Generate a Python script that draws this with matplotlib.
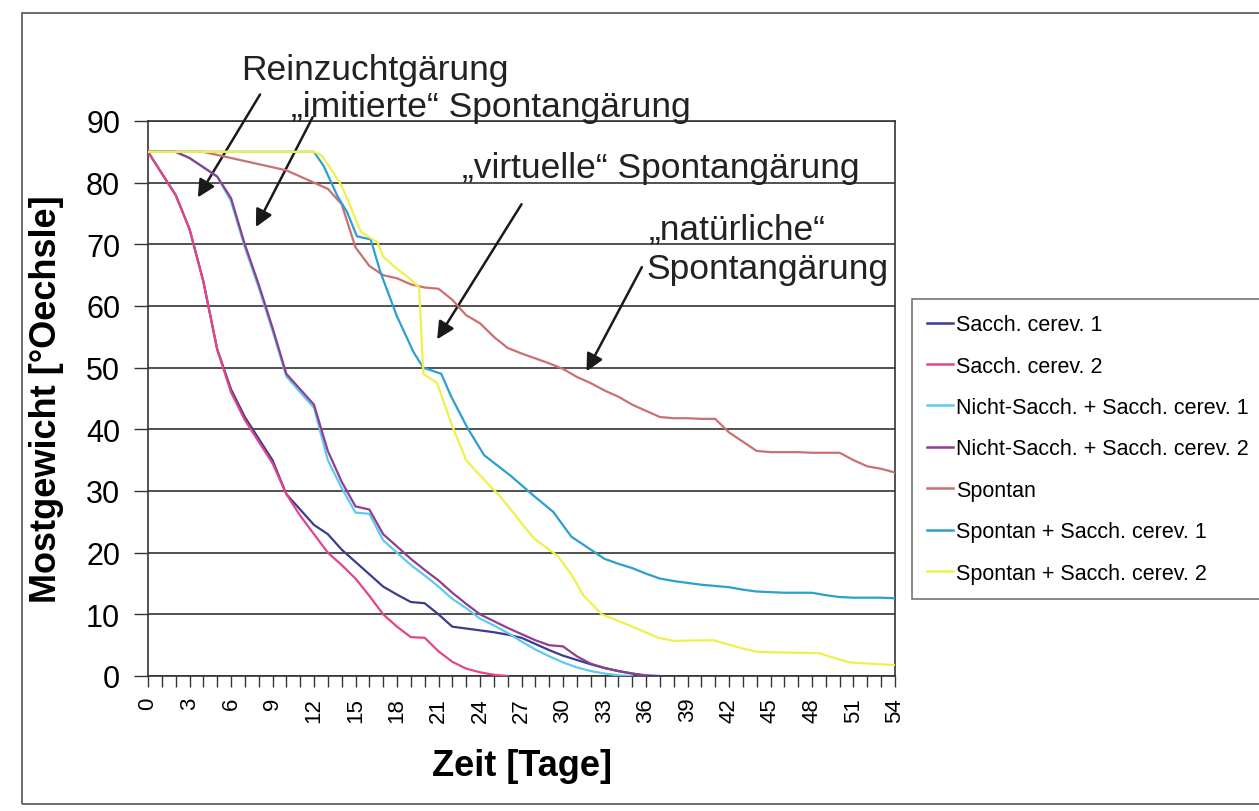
import matplotlib
matplotlib.use("Agg")
import matplotlib.pyplot as plt
from matplotlib.ticker import MultipleLocator
from matplotlib.lines import Line2D
from matplotlib.patches import Rectangle

# Mostgewicht over time for seven fermentations

days_sc1 = list(range(0, 38))
sacch_cerev_1 = [85, 81.5, 78, 72.5, 64, 53, 46.5, 42, 38.5, 35, 29.5, 27, 24.5, 23, 20.5, 18.5, 16.5, 14.5,
                 13.2, 12, 11.8, 10, 8, 7.7, 7.4, 7.1, 6.7, 6.2, 5.2, 4.2, 3.3, 2.6, 1.9, 1.3, 0.8, 0.4, 0.1, 0]

days_sc2 = list(range(0, 27))
sacch_cerev_2 = [85, 81.5, 78, 72.5, 64, 53, 46, 41.5, 38, 34.5, 29.5, 26, 23, 20, 18, 15.8, 13, 10,
                 8, 6.3, 6.2, 4, 2.3, 1.2, 0.6, 0.2, 0]

days_ns1 = list(range(0, 36))
nicht_sacch_1 = [85, 85, 85, 84, 82.5, 81, 77, 69.5, 63, 56, 48.6, 46, 43.5, 35, 30.5, 26.5, 26.3, 22,
                 20, 18, 16.3, 14.5, 12.5, 11, 9.3, 8.2, 7, 5.6, 4.3, 3.2, 2.2, 1.4, 0.8, 0.4, 0.1, 0]

days_ns2 = list(range(0, 37))
nicht_sacch_2 = [85, 85, 85, 84, 82.5, 81, 77.5, 70, 63.5, 56.5, 49, 46.5, 44, 36.5, 31.5, 27.5, 27, 23,
                 21, 19, 17.2, 15.5, 13.5, 11.7, 10, 8.9, 7.8, 6.8, 5.8, 5, 4.8, 3.2, 2, 1.3, 0.8, 0.4, 0]

days_sp = list(range(0, 55))
spontan = [85, 85, 85, 85, 85, 84.5, 84, 83.5, 83, 82.5, 82, 81, 80, 79, 76.5, 69.5, 66.5, 65,
           64.5, 63.5, 63, 62.8, 61, 58.5, 57.2, 55, 53.2, 52.3, 51.5, 50.7, 49.8, 48.5, 47.5, 46.3,
           45.3, 44, 43, 42, 41.8, 41.8, 41.7, 41.7, 39.5, 38, 36.5, 36.3, 36.3, 36.3, 36.2, 36.2,
           36.2, 35, 34, 33.6, 33]

days_sp1 = [0, 12, 12.7, 13.7, 14.4, 15.1, 16.1, 16.8, 18, 19.2, 19.9, 21.2, 21.9, 23.1, 24.3, 26.2,
            27.9, 29.3, 30.6, 32.8, 33, 34, 35, 36, 37, 38, 39, 40, 41, 42, 43, 44, 45, 46, 47, 48,
            49, 50, 51, 52, 53, 54]
spontan_sc1 = [85, 85, 82.7, 77.8, 75.2, 71.3, 70.8, 65.5, 58.3, 52.5, 50, 49, 45.4, 40.2, 35.8, 32.5,
               29.2, 26.6, 22.6, 19.3, 19, 18.2, 17.5, 16.6, 15.8, 15.4, 15.1, 14.8, 14.6, 14.4, 14,
               13.7, 13.6, 13.5, 13.5, 13.5, 13.1, 12.8, 12.7, 12.7, 12.7, 12.6]

days_sp2 = [0, 12, 12.5, 13, 14, 15.4, 16.6, 17, 18, 19, 19.6, 19.9, 20.9, 22, 23, 23.8, 25.5, 27.9,
            29.6, 30.6, 31.5, 32.8, 34.7, 36.9, 38, 40.9, 42.9, 44.1, 48.5, 50.7, 53.8, 54]
spontan_sc2 = [85, 85, 84.5, 83, 79.5, 72, 70.3, 68, 66, 64.3, 63, 49, 47.5, 40.5, 35, 33, 29, 22.3,
               19.5, 16.5, 13, 10, 8.3, 6.2, 5.7, 5.8, 4.5, 3.9, 3.7, 2.2, 1.8, 1.8]

labels = ["Sacch. cerev. 1", "Sacch. cerev. 2", "Nicht-Sacch. + Sacch. cerev. 1",
          "Nicht-Sacch. + Sacch. cerev. 2", "Spontan", "Spontan + Sacch. cerev. 1",
          "Spontan + Sacch. cerev. 2"]
colors = ["#3c3c8e", "#e4458a", "#5ccbee", "#8e3f92", "#cc6f6f", "#2c9fd2", "#f0f04a"]

series = [(days_sc1, sacch_cerev_1), (days_sc2, sacch_cerev_2), (days_ns1, nicht_sacch_1),
          (days_ns2, nicht_sacch_2), (days_sp, spontan), (days_sp1, spontan_sc1),
          (days_sp2, spontan_sc2)]

plt.rcParams['font.family'] = ['Liberation Sans', 'DejaVu Sans']

W, H = 1259, 812
fig = plt.figure(figsize=(W / 100, H / 100), dpi=100)
fig.patch.set_facecolor("white")
ax = fig.add_axes([148 / W, 1 - 677 / H, (895 - 148) / W, (677 - 122) / H])

# yellow/blue first so the others sit on top like in the scan
order = [6, 5, 4, 2, 3, 1, 0]
for i in order:
    x, y = series[i]
    ax.plot(x, y, color=colors[i], lw=1.6, zorder=3 + i * 0.1)

ax.set_xlim(0, 54)
ax.set_ylim(0, 90)
ax.xaxis.set_major_locator(MultipleLocator(3))
ax.xaxis.set_minor_locator(MultipleLocator(1))
ax.yaxis.set_major_locator(MultipleLocator(10))
ax.grid(axis="y", color="#333333", lw=1.2, zorder=1)
ax.set_axisbelow(True)
for s in ax.spines.values():
    s.set_color("#333333")
    s.set_linewidth(1.2)

ax.tick_params(axis="x", which="both", direction="out", length=8, width=1, color="#333333",
               labelsize=16, pad=7)
ax.tick_params(axis="y", direction="out", length=10, width=1, color="#333333", labelsize=22, pad=10)
for lab in ax.get_xticklabels():
    lab.set_rotation(90)

ax.set_ylabel("Mostgewicht [°Oechsle]", fontsize=26, fontweight="bold", labelpad=16)
ax.set_xlabel("Zeit [Tage]", fontsize=26, fontweight="bold", labelpad=19)

# annotations
arrow = dict(arrowstyle="-|>", color="#1a1a1a", lw=1.8, mutation_scale=26, shrinkA=0, shrinkB=0)
ax.annotate("", xy=(3.6, 77.6), xytext=(8.1, 94.3), arrowprops=arrow, annotation_clip=False)
ax.annotate("", xy=(7.8, 72.8), xytext=(11.9, 90.6), arrowprops=arrow, annotation_clip=False)
ax.annotate("", xy=(20.9, 54.6), xytext=(27.0, 76.5), arrowprops=arrow, annotation_clip=False)
ax.annotate("", xy=(31.7, 49.4), xytext=(35.7, 66.3), arrowprops=arrow, annotation_clip=False)

tk = dict(fontsize=25.5, color="#222222", ha="center", va="center", clip_on=False, zorder=6)
ax.text(16.4, 98.4, "Reinzuchtgärung", **tk)
ax.text(24.8, 92.4, "„imitierte“ Spontangärung", **tk)
ax.text(37.1, 82.5, "„virtuelle“ Spontangärung", **tk)
ax.text(42.6, 72.5, "„natürliche“", **tk)
ax.text(44.8, 66.0, "Spontangärung", **tk)

handles = [Line2D([0], [0], color=c, lw=1.8) for c in colors]
leg = fig.legend(handles, labels, loc="upper left", bbox_to_anchor=(912 / W, 1 - 300 / H),
                 bbox_transform=fig.transFigure, prop={"size": 15.5}, frameon=True, fancybox=False,
                 handlelength=1.2, handletextpad=0.15, labelspacing=0.95, borderpad=0.7,
                 borderaxespad=0)
leg.get_frame().set_edgecolor("#444444")
leg.get_frame().set_linewidth(1.1)

# outer chart border
fig.patches.append(Rectangle((22 / W, 1 - 805 / H), 1.2, (805 - 14) / H, transform=fig.transFigure,
                             fill=False, ec="#555555", lw=1.2))

fig.savefig("out.png", dpi=100)
